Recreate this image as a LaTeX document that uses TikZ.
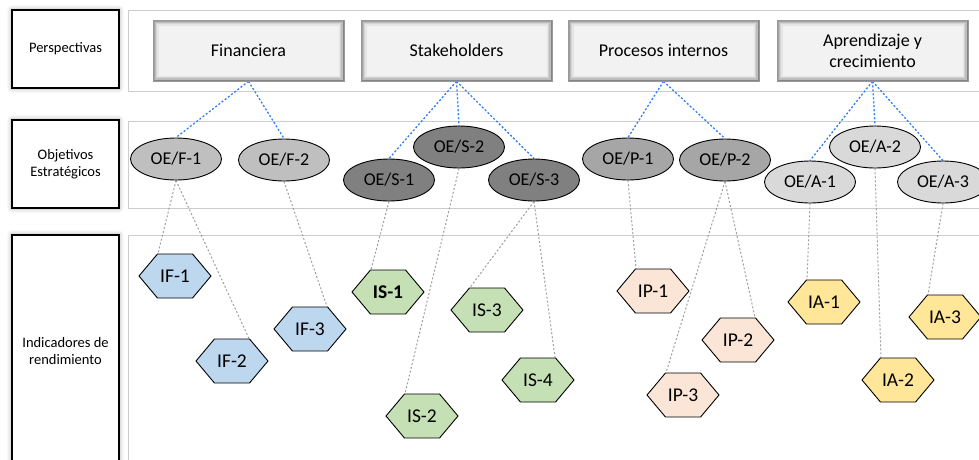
\documentclass[tikz,border=0pt]{standalone}
\usepackage{fontspec}
\setmainfont{Carlito}
\usetikzlibrary{shapes.geometric,shapes.symbols,calc,backgrounds,shadows.blur}

\definecolor{linkblue}{HTML}{2F7CF6}
\definecolor{ellF}{HTML}{BFBFBF}
\definecolor{ellS}{HTML}{808080}
\definecolor{ellP}{HTML}{A6A6A6}
\definecolor{ellA}{HTML}{D9D9D9}
\definecolor{hexF}{HTML}{BDD7EE}
\definecolor{hexS}{HTML}{C5E0B4}
\definecolor{hexP}{HTML}{FBE5D6}
\definecolor{hexA}{HTML}{FFE699}

\begin{document}
\begin{tikzpicture}[x=1pt,y=-1pt,
  labelbox/.style={rectangle, draw=black, line width=1.1pt, fill=white,
    align=center, inner sep=0pt, minimum width=107pt,
    font=\fontsize{14.5}{17.5}\selectfont,
    blur shadow={shadow xshift=0pt, shadow yshift=0pt,
      shadow blur radius=5pt, shadow opacity=40}},
  panel/.style={draw=black!20, line width=0.9pt},
  perspbox/.style={rectangle, minimum width=191pt, minimum height=61pt,
    fill=black!5, draw=black!40, line width=0.6pt, align=center,
    font=\fontsize{18}{21}\selectfont,
    path picture={
      \foreach \w/\c in {11/10, 8/17, 5.5/26, 3/37, 1.2/48}
        \draw[line width=\w pt, black!\c]
          (path picture bounding box.south west) rectangle
          (path picture bounding box.north east);}},
  objective/.style={ellipse, draw=black, line width=0.9pt,
    minimum width=91pt, minimum height=42pt, inner sep=0pt,
    font=\fontsize{18}{21}\selectfont},
  indicator/.style={signal, signal to=east and west,
    signal pointer angle=100, draw=black, line width=0.9pt,
    minimum width=72pt, minimum height=44pt, inner sep=0pt,
    font=\fontsize{19.5}{22}\selectfont},
  link/.style={dash pattern=on 2pt off 2pt, line width=1.3pt, linkblue},
  trace/.style={dash pattern=on 2pt off 2pt, line width=1pt, black!38}
]
\useasboundingbox (0,0) rectangle (979,459);

% row headings
\node[labelbox, minimum height=78pt] (hP) at (65.5,49) {Perspectivas};
\node[labelbox, minimum height=88pt] (hO) at (65.5,164) {Objetivos\\Estratégicos};
\node[labelbox, minimum height=232pt] (hI) at (65.5,351) {Indicadores de\\rendimiento};

% perspectives
\node[perspbox] (pF) at (248.5,50.5) {Financiera};
\node[perspbox] (pS) at (456.5,50.5) {Stakeholders};
\node[perspbox] (pP) at (663.5,50.5) {Procesos internos};
\node[perspbox] (pA) at (872.5,50.5) {Aprendizaje y\\crecimiento};

% strategic objectives
\node[objective, fill=ellF] (oF1) at (176,159) {OE/F-1};
\node[objective, fill=ellF] (oF2) at (284,160) {OE/F-2};
\node[objective, fill=ellS] (oS1) at (389,180) {OE/S-1};
\node[objective, fill=ellS] (oS2) at (459,147) {OE/S-2};
\node[objective, fill=ellS] (oS3) at (534,180) {OE/S-3};
\node[objective, fill=ellP] (oP1) at (628,159) {OE/P-1};
\node[objective, fill=ellP] (oP2) at (725,160) {OE/P-2};
\node[objective, fill=ellA] (oA1) at (810,182) {OE/A-1};
\node[objective, fill=ellA] (oA2) at (875,147) {OE/A-2};
\node[objective, fill=ellA] (oA3) at (943,182) {OE/A-3};

% performance indicators
\node[indicator, fill=hexF] (iF1) at (175,276) {IF-1};
\node[indicator, fill=hexF] (iF2) at (232,361) {IF-2};
\node[indicator, fill=hexF] (iF3) at (310,329) {IF-3};
\node[indicator, fill=hexS] (iS1) at (388,292) {\textbf{IS-1}};
\node[indicator, fill=hexS] (iS2) at (422,416) {IS-2};
\node[indicator, fill=hexS] (iS3) at (487,310) {IS-3};
\node[indicator, fill=hexS] (iS4) at (538,380) {IS-4};
\node[indicator, fill=hexP] (iP1) at (653,291) {IP-1};
\node[indicator, fill=hexP] (iP2) at (738,340) {IP-2};
\node[indicator, fill=hexP] (iP3) at (683,395) {IP-3};
\node[indicator, fill=hexA] (iA1) at (824,302) {IA-1};
\node[indicator, fill=hexA] (iA2) at (898,380) {IA-2};
\node[indicator, fill=hexA] (iA3) at (945,317) {IA-3};

\begin{pgfonlayer}{background}
  % row panels
  \draw[panel] (128,10.5) rectangle (990,91);
  \draw[panel] (128,121) rectangle (990,208);
  \draw[panel] (128,235) rectangle (990,480);

  % perspective -> objective
  \foreach \p/\o in {pF/oF1, pF/oF2, pS/oS1, pS/oS2, pS/oS3,
                     pP/oP1, pP/oP2, pA/oA1, pA/oA2, pA/oA3}
    \draw[link] (\p.south) -- (\o.north);

  % objective -> indicator (left or right top corner)
  \foreach \o/\i/\s in {oF1/iF1/-1, oF1/iF2/1, oF2/iF3/1, oS1/iS1/-1,
                        oS2/iS2/-1, oS3/iS3/-1, oS3/iS4/1, oP1/iP1/-1,
                        oP2/iP3/-1, oP2/iP2/1, oA1/iA1/-1, oA2/iA2/-1,
                        oA3/iA3/-1}
    \draw[trace] (\o.south) -- ($(\i.north)+(\s*17,0)$);
\end{pgfonlayer}
\end{tikzpicture}
\end{document}
